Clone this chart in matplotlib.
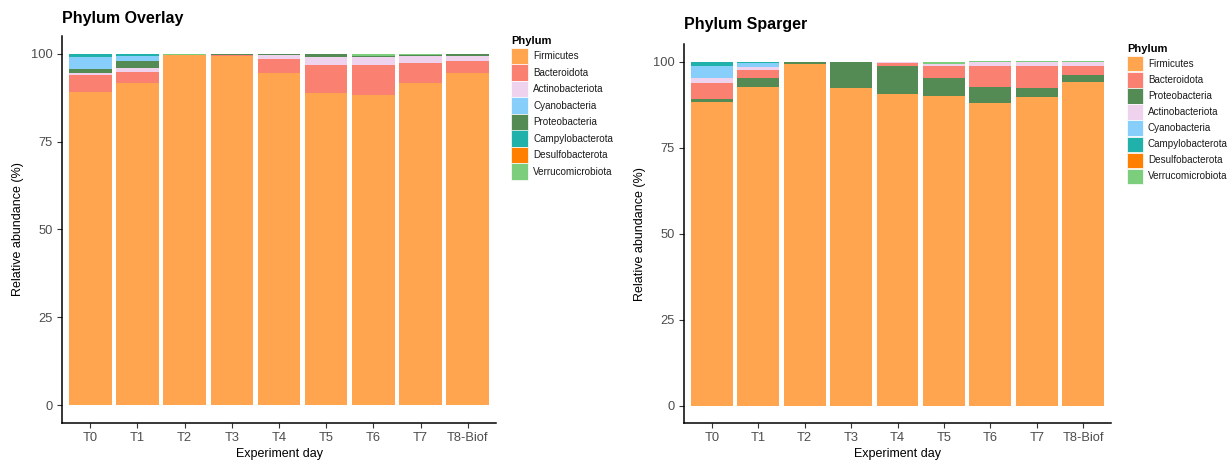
import matplotlib.pyplot as plt
from matplotlib.patches import Rectangle
import numpy as np

plt.rcParams['font.family'] = ['Liberation Sans', 'DejaVu Sans']

days = ["T0", "T1", "T2", "T3", "T4", "T5", "T6", "T7", "T8-Biof"]

# Phylum Overlay (relative abundance, %)
firm_ov = [89.0, 91.5, 99.5, 99.2, 94.6, 88.9, 88.2, 91.5, 94.4]
bact_ov = [4.8, 3.4, 0.0, 0.3, 3.8, 7.8, 8.5, 5.7, 3.4]
actino_ov = [0.8, 0.9, 0.0, 0.0, 1.2, 2.2, 2.4, 2.2, 1.5]
proteo_ov = [1.0, 2.1, 0.1, 0.5, 0.4, 0.9, 0.1, 0.3, 0.5]
cyano_ov = [3.3, 1.4, 0.0, 0.0, 0.0, 0.0, 0.0, 0.0, 0.0]
campy_ov = [1.1, 0.7, 0.0, 0.0, 0.0, 0.0, 0.0, 0.0, 0.0]
desulfo_ov = [0.0, 0.0, 0.0, 0.0, 0.0, 0.0, 0.0, 0.0, 0.0]
verruco_ov = [0.0, 0.0, 0.4, 0.0, 0.0, 0.2, 0.8, 0.3, 0.2]

# Phylum Sparger (relative abundance, %)
firm_sp = [88.2, 92.6, 99.2, 92.2, 90.7, 89.9, 88.0, 89.8, 94.0]
proteo_sp = [0.8, 2.5, 0.6, 7.8, 7.9, 5.2, 4.6, 2.6, 2.1]
bact_sp = [4.8, 2.4, 0.2, 0.0, 1.0, 3.7, 6.0, 6.2, 2.5]
actino_sp = [1.3, 1.0, 0.0, 0.0, 0.2, 0.6, 1.2, 1.2, 1.2]
cyano_sp = [3.5, 1.0, 0.0, 0.0, 0.0, 0.0, 0.0, 0.0, 0.0]
campy_sp = [1.4, 0.5, 0.0, 0.0, 0.0, 0.0, 0.0, 0.0, 0.0]
desulfo_sp = [0.0, 0.0, 0.0, 0.0, 0.0, 0.0, 0.0, 0.0, 0.0]
verruco_sp = [0.0, 0.0, 0.0, 0.0, 0.2, 0.6, 0.3, 0.3, 0.3]

colors = {
    "Firmicutes": "#FFA54F",
    "Bacteroidota": "#FA8072",
    "Actinobacteriota": "#EED2EE",
    "Cyanobacteria": "#87CEFA",
    "Proteobacteria": "#548B54",
    "Campylobacterota": "#20B2AA",
    "Desulfobacterota": "#FF7F00",
    "Verrucomicrobiota": "#7CCD7C",
}

overlay = {
    "Firmicutes": firm_ov, "Bacteroidota": bact_ov, "Actinobacteriota": actino_ov,
    "Proteobacteria": proteo_ov, "Cyanobacteria": cyano_ov, "Campylobacterota": campy_ov,
    "Desulfobacterota": desulfo_ov, "Verrucomicrobiota": verruco_ov,
}
sparger = {
    "Firmicutes": firm_sp, "Proteobacteria": proteo_sp, "Bacteroidota": bact_sp,
    "Actinobacteriota": actino_sp, "Cyanobacteria": cyano_sp, "Campylobacterota": campy_sp,
    "Desulfobacterota": desulfo_sp, "Verrucomicrobiota": verruco_sp,
}
legend_ov = ["Firmicutes", "Bacteroidota", "Actinobacteriota", "Cyanobacteria",
             "Proteobacteria", "Campylobacterota", "Desulfobacterota", "Verrucomicrobiota"]
legend_sp = ["Firmicutes", "Bacteroidota", "Proteobacteria", "Actinobacteriota",
             "Cyanobacteria", "Campylobacterota", "Desulfobacterota", "Verrucomicrobiota"]

W, H = 1232, 461
fig = plt.figure(figsize=(W / 100, H / 100), dpi=100)


def draw_legend(order, x0, y0, key, step):
    # x0, y0 in pixels from top-left; key = key size, step = row height
    fig.text(x0 / W, 1 - (y0 - 7) / H, "Phylum", fontsize=8, fontweight="bold",
             ha="left", va="center")
    for i, name in enumerate(order):
        top = y0 + i * step
        fig.add_artist(Rectangle((x0 / W, 1 - (top + key) / H), key / W, key / H,
                                 transform=fig.transFigure, facecolor=colors[name],
                                 edgecolor="white", linewidth=0.5))
        fig.text((x0 + key + 5.5) / W, 1 - (top + key / 2) / H, name, fontsize=7.1,
                 ha="left", va="center", color="#1A1A1A")


def panel(rect, data, title, title_xy):
    ax = fig.add_axes(rect)
    x = np.arange(len(days))
    bottom = np.zeros(len(days))
    for name, vals in data.items():
        vals = np.array(vals)
        ax.bar(x, vals, bottom=bottom, width=0.9, color=colors[name],
               edgecolor="none", linewidth=0)
        bottom += vals
    ax.set_xlim(-0.6, len(days) - 0.4)
    ax.set_ylim(-5, 105)
    ax.set_yticks([0, 25, 50, 75, 100])
    ax.set_xticks(x)
    ax.set_xticklabels(days)
    for s in ["top", "right"]:
        ax.spines[s].set_visible(False)
    for s in ["left", "bottom"]:
        ax.spines[s].set_linewidth(1.1)
        ax.spines[s].set_color("black")
    ax.tick_params(axis="both", length=3.5, width=0.8, color="#333333",
                   labelsize=9.3, labelcolor="#4D4D4D", pad=3)
    ax.set_xlabel("Experiment day", fontsize=9, labelpad=2.5)
    ax.set_ylabel("Relative abundance (%)", fontsize=9, labelpad=5)
    fig.text(title_xy[0] / W, 1 - title_xy[1] / H, title, fontsize=11.5,
             fontweight="bold", ha="left", va="center")
    return ax


panel([62 / W, (H - 423) / H, (496 - 62) / W, (423 - 36) / H], overlay,
      "Phylum Overlay", (62, 18))
panel([684 / W, (H - 423) / H, (1111 - 684) / W, (423 - 44.3) / H], sparger,
      "Phylum Sparger", (684, 25))

draw_legend(legend_ov, 511, 48, 16.5, 16.5)
draw_legend(legend_sp, 1127, 56, 15.5, 16.1)

fig.savefig("out.png", dpi=100)
